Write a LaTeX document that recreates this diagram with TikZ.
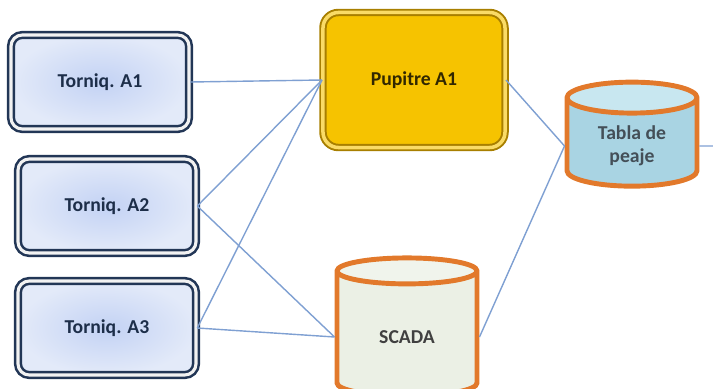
\documentclass[tikz,border=0pt]{standalone}
\usepackage{fontspec}
\setmainfont{Carlito}
\usetikzlibrary{shapes.geometric,shadows}
\definecolor{navy}{HTML}{223656}
\definecolor{boxin}{HTML}{C3D2F4}
\definecolor{boxout}{HTML}{E3EAF9}
\definecolor{linkblue}{HTML}{7FA0D2}
\definecolor{gold}{HTML}{F6C300}
\definecolor{golddark}{HTML}{A87F00}
\definecolor{tankorange}{HTML}{E2792B}
\definecolor{tablabody}{HTML}{A9D4E3}
\definecolor{tablatop}{HTML}{C8E7F0}
\definecolor{scadabody}{HTML}{EBF0E5}
\definecolor{scadatop}{HTML}{F0F4EC}
\begin{document}
\begin{tikzpicture}[x=0.025cm, y=-0.025cm, font=\fontsize{14}{16}\selectfont\bfseries,
  torniq/.style = {draw=navy, line width=1.8pt, double=gray!10, double distance=2.2pt,
    rounded corners=8pt, minimum width=4.45cm, minimum height=2.35cm,
    inner color=boxin, outer color=boxout, text=navy!85!black,
    drop shadow={opacity=0.25, shadow xshift=1pt, shadow yshift=-1.5pt}},
  pupitre/.style = {draw=golddark, line width=1.4pt, double=gold!60!white, double distance=2.5pt,
    rounded corners=11pt, minimum width=4.55cm, minimum height=3.375cm,
    fill=gold, text=black!80!gold,
    drop shadow={opacity=0.3, shadow xshift=1.5pt, shadow yshift=-1.5pt}},
  tank/.style = {cylinder, shape border rotate=90, aspect=0.4, draw=tankorange,
    line width=3.5pt, cylinder uses custom fill, align=center},
  link/.style = {draw=linkblue, line width=1pt}]
  \useasboundingbox (0,0) rectangle (713,389);
  \node[torniq] (t1) at (100,82) {Torniq. A1};
  \node[torniq] (t2) at (107,206) {Torniq. A2};
  \node[torniq] (t3) at (107,328) {Torniq. A3};
  \node[pupitre] (pup) at (414,80) {Pupitre A1};
  \node[tank, minimum width=3.25cm, minimum height=2.6cm,
    cylinder body fill=tablabody, cylinder end fill=tablatop,
    text=cyan!25!black] (tabla) at (632,146) {Tabla de\\peaje};
  \node[tank, minimum width=3.5cm, minimum height=3.45cm,
    cylinder body fill=scadabody, cylinder end fill=scadatop,
    text=black!75] (scada) at (407,337) {SCADA};
  \coordinate (out) at (713,146);
  \draw[link] (t1.east) -- (pup.west);
  \draw[link] (t2.east) -- (pup.west);
  \draw[link] (t3.east) -- (pup.west);
  \draw[link] (t2.east) -- (scada.west);
  \draw[link] (t3.east) -- (scada.west);
  \draw[link] (pup.east) -- (tabla.west);
  \draw[link] (scada.east) -- (tabla.west);
  \draw[link] (tabla.east) -- (out);
\end{tikzpicture}
\end{document}
